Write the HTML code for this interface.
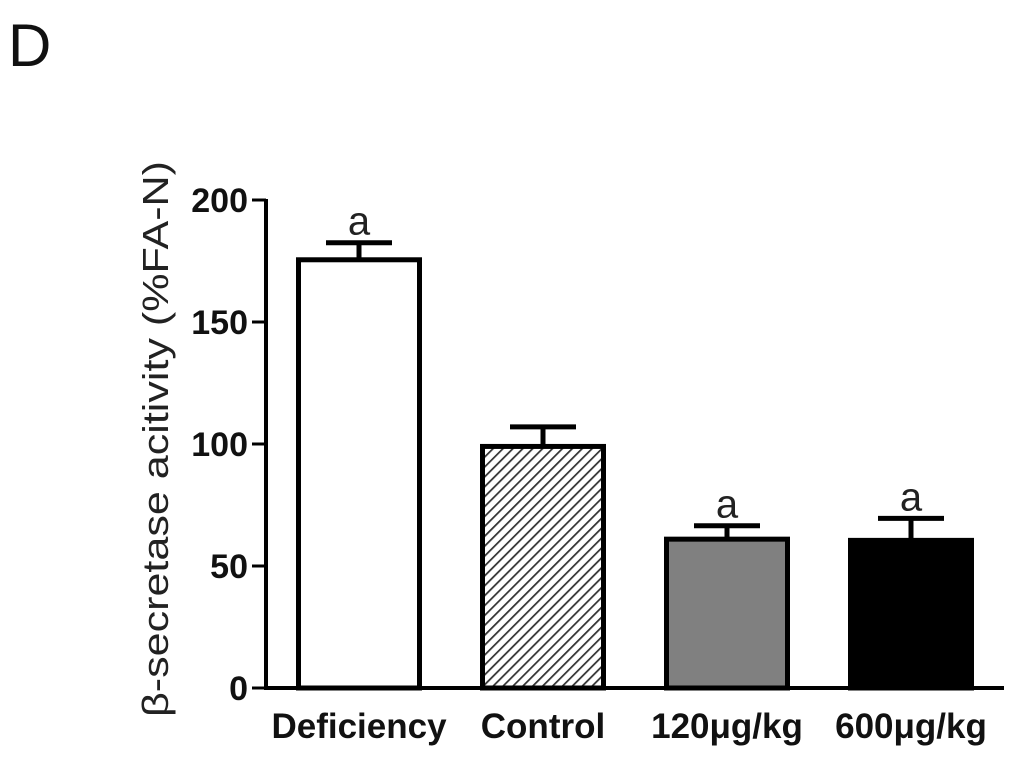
<!DOCTYPE html>
<html><head><meta charset="utf-8"><style>
html,body{margin:0;padding:0;background:#fff;}
svg{display:block;font-family:"Liberation Sans",Arial,sans-serif;}
</style></head><body>
<svg id="chart" width="1024" height="761" viewBox="0 0 1024 761">
<defs>
<pattern id="hatch" patternUnits="userSpaceOnUse" width="7" height="7" patternTransform="rotate(45)">
<rect width="7" height="7" fill="#fff"/>
<line x1="0" y1="0" x2="0" y2="7" stroke="#333" stroke-width="3.5"/>
</pattern>
</defs>
<text x="8" y="66" font-size="60" fill="#111">D</text>
<text transform="translate(168,439) rotate(-90)" text-anchor="middle" font-size="36" fill="#222" textLength="556" lengthAdjust="spacingAndGlyphs">β-secretase acitivity (%FA-N)</text>
<g id="axes"></g>
<g id="bars"></g>
</svg>
<script>
const categories = ["Deficiency", "Control", "120\u03bcg/kg", "600\u03bcg/kg"];
const values = [175.5, 99, 61, 60.5];
const errors = [7, 8, 5.5, 9];
const sigLabels = ["a", "", "a", "a"];
const yTicks = [0, 50, 100, 150, 200];
const fills = ["#fff", "url(#hatch)", "#808080", "#000"];

const NS = "http://www.w3.org/2000/svg";
const y0 = 688, pxPerUnit = 2.44;
function yScale(v){ return y0 - v * pxPerUnit; }
const firstCenter = 359, step = 184, barW = 126;
function xScale(i){ return firstCenter + i * step; }
function mk(tag, attrs, parent){ const e = document.createElementNS(NS, tag); for (const k in attrs) e.setAttribute(k, attrs[k]); parent.appendChild(e); return e; }

const axes = document.getElementById('axes');
const bars = document.getElementById('bars');
const axisX = 266;
let yl = mk('line', {x1: axisX, y1: yScale(200) - 1, x2: axisX, y2: y0 + 2, stroke: '#000', 'stroke-width': 4}, axes);


let xl = mk('line', {x1: axisX - 2, y1: y0, x2: 1004, y2: y0, stroke: '#000', 'stroke-width': 4}, axes);


yTicks.forEach(t => {
  const y = yScale(t);
  const tk = mk('line', {x1: axisX - 14, y1: y, x2: axisX, y2: y, stroke: '#000', 'stroke-width': 3}, axes);
  
  
  const tl = mk('text', {x: axisX - 18, y: y + 12, 'text-anchor': 'end', 'font-size': 34, 'font-weight': 'bold', fill: '#111'}, axes);
  tl.textContent = t;
  
  
});
categories.forEach((c, i) => {
  const cx = xScale(i), top = yScale(values[i]), cap = yScale(values[i] + errors[i]);
  const el = mk('line', {x1: cx, y1: cap, x2: cx, y2: top, stroke: '#000', 'stroke-width': 5}, bars);
  
  
  const cl = mk('line', {x1: cx - 33, y1: cap, x2: cx + 33, y2: cap, stroke: '#000', 'stroke-width': 5}, bars);
  
  
  const r = mk('rect', {x: cx - barW/2 + 2.5, y: top, width: barW - 5, height: y0 - top, fill: fills[i], stroke: '#000', 'stroke-width': 5}, bars);
  
  
  if (sigLabels[i]) {
    const s = mk('text', {x: cx, y: cap - 8, 'text-anchor': 'middle', 'font-size': 40, fill: '#222'}, bars);
    s.textContent = sigLabels[i];
    
    
  }
  const lb = mk('text', {x: cx, y: 738, 'text-anchor': 'middle', 'font-size': 35, 'font-weight': 'bold', fill: '#111'}, bars);
  lb.textContent = c;
  
  
});
</script>
</body></html>
